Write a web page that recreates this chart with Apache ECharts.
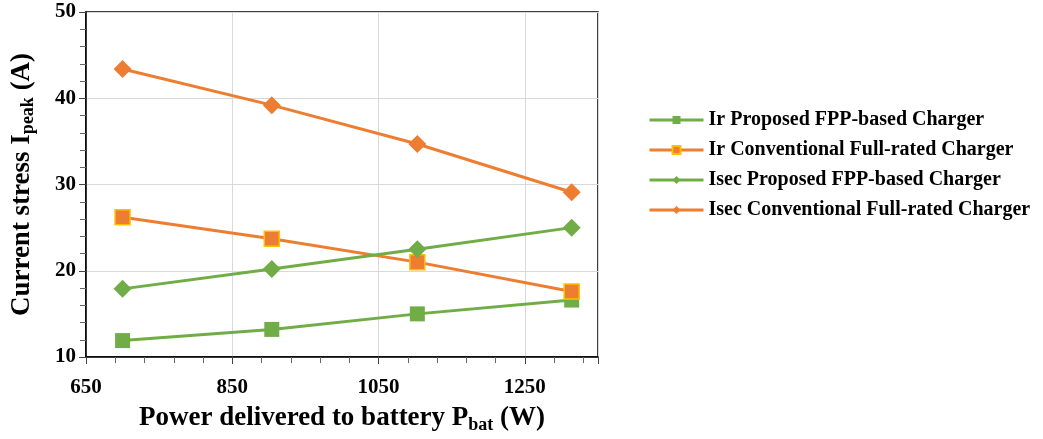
<!DOCTYPE html>
<html>
<head>
<meta charset="utf-8">
<script src="https://cdn.jsdelivr.net/npm/echarts@6/dist/echarts.min.js"></script>
<style>
  html, body { margin: 0; padding: 0; background: #fff; }
  #chart { width: 1043px; height: 439px; }
</style>
</head>
<body>
<div id="chart"></div>
<script>
// Output power delivered to the battery (W)
const powerW = [700, 904, 1103, 1314];

// Peak current stress (A) for each charger configuration
const irProposed = [11.9, 13.2, 15.0, 16.6];
const irConventional = [26.2, 23.7, 21.0, 17.6];
const isecProposed = [17.9, 20.2, 22.5, 25.0];
const isecConventional = [43.4, 39.2, 34.7, 29.1];

const seriesNames = [
  'Ir Proposed FPP-based Charger',
  'Ir Conventional Full-rated Charger',
  'Isec Proposed FPP-based Charger',
  'Isec Conventional Full-rated Charger'
];

const xTicks = [650, 850, 1050, 1250];
const yTicks = [10, 20, 30, 40, 50];

const GREEN = '#70AD47';
const ORANGE = '#ED7D31';
const FONT = '"Liberation Serif", "Times New Roman", serif';

function pairs(values) {
  return values.map((v, i) => [powerW[i], v]);
}

const chart = echarts.init(document.getElementById('chart'), null, { renderer: 'canvas' });

function lineSeries(name, values, color, symbol, size, borderColor) {
  return {
    name: name,
    type: 'line',
    data: pairs(values),
    symbol: symbol,
    symbolSize: size,
    showAllSymbol: true,
    lineStyle: { color: color, width: 3 },
    itemStyle: { color: color, borderColor: borderColor || color, borderWidth: borderColor ? 1.5 : 0 },
    emphasis: { disabled: true },
    animation: false,
    z: 3
  };
}

function axisTitleRich(mainSize, subSize) {
  return {
    m: { fontFamily: FONT, fontWeight: 'bold', fontSize: mainSize, color: '#000', lineHeight: 32 },
    s: { fontFamily: FONT, fontWeight: 'bold', fontSize: subSize, color: '#000', lineHeight: 32, padding: [13, 0, 0, 0] }
  };
}

chart.setOption({
  backgroundColor: '#fff',
  animation: false,
  grid: {
    left: 86, top: 12, right: 445, bottom: 82,
    outerBoundsMode: 'none',
    containLabel: false,
    show: true, borderColor: '#000', borderWidth: 1.5, backgroundColor: 'transparent'
  },
  legend: {
    orient: 'vertical',
    left: 643,
    top: 105,
    itemWidth: 54,
    itemHeight: 10,
    itemGap: 10,
    data: seriesNames,
    lineStyle: { width: 3 },
    textStyle: { fontFamily: FONT, fontWeight: 'bold', fontSize: 20, color: '#000' }
  },
  xAxis: {
    type: 'value',
    min: 650, max: 1350, interval: 200,
    axisLine: { show: true, lineStyle: { color: '#000', width: 1.5 } },
    axisTick: { show: true, length: 7, lineStyle: { color: '#444' } },
    minorTick: { show: true, splitNumber: 5, length: 6, lineStyle: { color: '#666' } },
    splitLine: { show: true, lineStyle: { color: '#d9d9d9', width: 1 } },
    axisLabel: {
      fontFamily: FONT, fontWeight: 'bold', fontSize: 21, color: '#000', margin: 20,
      showMaxLabel: false,
      formatter: v => (xTicks.includes(v) ? String(v) : '')
    },
    name: '{m|Power delivered to battery P}{s|bat}{m| (W)}',
    nameLocation: 'middle',
    nameGap: 44,
    nameTextStyle: { rich: axisTitleRich(27, 18) }
  },
  yAxis: {
    type: 'value',
    min: 10, max: 50, interval: 10,
    axisLine: { show: true, lineStyle: { color: '#000', width: 1.5 } },
    axisTick: { show: true, length: 7, lineStyle: { color: '#444' } },
    minorTick: { show: true, splitNumber: 5, length: 6, lineStyle: { color: '#666' } },
    splitLine: { show: true, lineStyle: { color: '#d9d9d9', width: 1 } },
    axisLabel: {
      fontFamily: FONT, fontWeight: 'bold', fontSize: 21, color: '#000', margin: 10,
      formatter: v => (yTicks.includes(v) ? String(v) : '')
    },
    name: '{m|Current stress I}{s|peak}{m| (A)}',
    nameLocation: 'middle',
    nameGap: 48,
    nameRotate: 90,
    nameTextStyle: { rich: axisTitleRich(27, 18) }
  },
  series: [
    lineSeries(seriesNames[0], irProposed, GREEN, 'rect', 15),
    lineSeries(seriesNames[1], irConventional, ORANGE, 'rect', 15, '#FFC000'),
    lineSeries(seriesNames[2], isecProposed, GREEN, 'diamond', 18),
    lineSeries(seriesNames[3], isecConventional, ORANGE, 'diamond', 18)
  ]
});
</script>
</body>
</html>
